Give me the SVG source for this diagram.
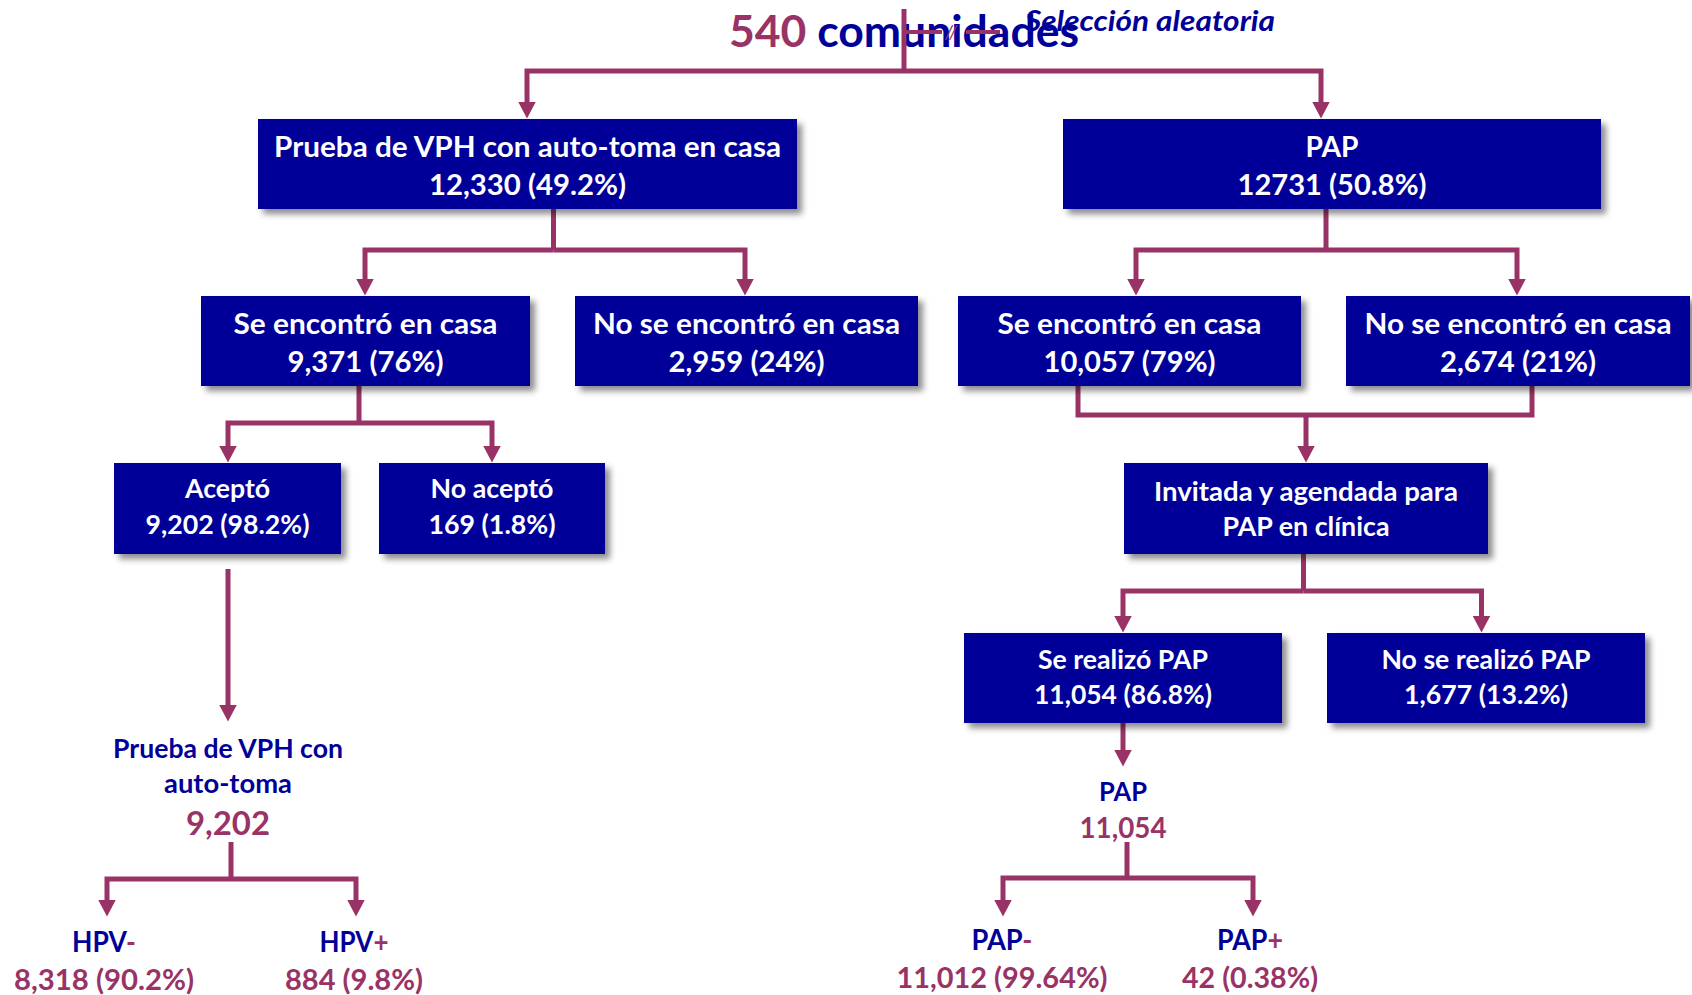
<svg xmlns="http://www.w3.org/2000/svg" width="1692" height="995" viewBox="0 0 1692 995">
<defs>
<style>
.box{fill:#000099;filter:url(#sh);}
.t{font-family:Lato,"Open Sans","Liberation Sans",sans-serif;font-weight:bold;text-anchor:middle;}
.w{fill:#ffffff;}
.b{fill:#000099;}
.p{fill:#993366;}
.s32{font-size:29px;}
.s29{font-size:26px;}
.c{fill:none;stroke:#993366;stroke-width:5;stroke-linejoin:miter;}
.a{marker-end:url(#ah);}
</style>
<filter id="sh" x="-10%" y="-20%" width="130%" height="160%">
<feDropShadow dx="5" dy="5" stdDeviation="3" flood-color="#000" flood-opacity="0.45"/>
</filter>
<marker id="ah" markerUnits="userSpaceOnUse" markerWidth="17" markerHeight="18" viewBox="0 0 17 18" refX="0.5" refY="9" orient="auto">
<path d="M0,0 L17,9 L0,18 z" fill="#993366"/>
</marker>
</defs>
<rect width="1692" height="995" fill="#ffffff"/>

<g id="title">
<text class="t" x="904" y="47" style="font-size:43px" textLength="350" lengthAdjust="spacingAndGlyphs"><tspan class="p">540 </tspan><tspan class="b">comunidades</tspan></text>
</g>

<g id="connectors">
<path class="c" d="M904,9 V71"/>
<path class="c a" d="M904,71 H527 V102"/>
<path class="c a" d="M904,71 H1321 V102"/>
<path class="c" style="stroke-width:4" d="M904,32 H942 M966,32 H1000"/>
<text x="945" y="39" style="font-family:Lato,'Liberation Sans',sans-serif;font-style:italic;font-size:19px;fill:#993366">//</text>
<path class="c" d="M553.5,209 V250"/>
<path class="c a" d="M553.5,250 H365 V279"/>
<path class="c a" d="M553.5,250 H745 V279"/>
<path class="c" d="M1326,209 V250"/>
<path class="c a" d="M1326,250 H1136 V279"/>
<path class="c a" d="M1326,250 H1517 V279"/>
<path class="c" d="M359,386 V423"/>
<path class="c a" d="M359,423 H228 V446"/>
<path class="c a" d="M359,423 H492 V446"/>
<path class="c" d="M1078,386 V415 H1532 V386"/>
<path class="c a" d="M1306,415 V446"/>
<path class="c" d="M1303.5,554 V591"/>
<path class="c a" d="M1303.5,591 H1123 V616"/>
<path class="c a" d="M1303.5,591 H1481.5 V616"/>
<path class="c a" d="M228,569 V705"/>
<path class="c a" d="M1123,723 V750"/>
<path class="c" d="M231,842 V879"/>
<path class="c a" d="M231,879 H107 V900"/>
<path class="c a" d="M231,879 H356 V900"/>
<path class="c" d="M1127,842 V878"/>
<path class="c a" d="M1127,878 H1003 V900"/>
<path class="c a" d="M1127,878 H1253 V900"/>
</g>

<g id="seleccion">
<text x="1025" y="31" style="font-family:Lato,'Liberation Sans',sans-serif;font-weight:bold;font-style:italic;font-size:29px;fill:#000099" textLength="250" lengthAdjust="spacingAndGlyphs">Selección aleatoria</text>
</g>

<g id="n-vph">
<rect class="box" x="258" y="119" width="539" height="90"/>
<text class="t w s32" x="527.5" y="157" textLength="507" lengthAdjust="spacingAndGlyphs">Prueba de VPH con auto-toma en casa</text>
<text class="t w s32" x="527.5" y="195" textLength="197" lengthAdjust="spacingAndGlyphs">12,330 (49.2%)</text>
</g>

<g id="n-pap">
<rect class="box" x="1063" y="119" width="538" height="90"/>
<text class="t w s32" x="1332" y="157" textLength="53" lengthAdjust="spacingAndGlyphs">PAP</text>
<text class="t w s32" x="1332" y="195" textLength="189" lengthAdjust="spacingAndGlyphs">12731 (50.8%)</text>
</g>

<g id="n-vph-casa">
<rect class="box" x="201" y="296" width="329" height="90"/>
<text class="t w s32" x="365.5" y="334" textLength="264" lengthAdjust="spacingAndGlyphs">Se encontró en casa</text>
<text class="t w s32" x="365.5" y="372" textLength="156" lengthAdjust="spacingAndGlyphs">9,371 (76%)</text>
</g>

<g id="n-vph-nocasa">
<rect class="box" x="575" y="296" width="343" height="90"/>
<text class="t w s32" x="746.5" y="334" textLength="307" lengthAdjust="spacingAndGlyphs">No se encontró en casa</text>
<text class="t w s32" x="746.5" y="372" textLength="156" lengthAdjust="spacingAndGlyphs">2,959 (24%)</text>
</g>

<g id="n-pap-casa">
<rect class="box" x="958" y="296" width="343" height="90"/>
<text class="t w s32" x="1129.5" y="334" textLength="264" lengthAdjust="spacingAndGlyphs">Se encontró en casa</text>
<text class="t w s32" x="1129.5" y="372" textLength="172" lengthAdjust="spacingAndGlyphs">10,057 (79%)</text>
</g>

<g id="n-pap-nocasa">
<rect class="box" x="1346" y="296" width="344" height="90"/>
<text class="t w s32" x="1518" y="334" textLength="307" lengthAdjust="spacingAndGlyphs">No se encontró en casa</text>
<text class="t w s32" x="1518" y="372" textLength="156" lengthAdjust="spacingAndGlyphs">2,674 (21%)</text>
</g>

<g id="n-acepto">
<rect class="box" x="114" y="463" width="227" height="91"/>
<text class="t w s29" x="227.5" y="498" textLength="85" lengthAdjust="spacingAndGlyphs">Aceptó</text>
<text class="t w s29" x="227.5" y="534" textLength="164" lengthAdjust="spacingAndGlyphs">9,202 (98.2%)</text>
</g>

<g id="n-noacepto">
<rect class="box" x="379" y="463" width="226" height="91"/>
<text class="t w s29" x="492" y="498" textLength="123" lengthAdjust="spacingAndGlyphs">No aceptó</text>
<text class="t w s29" x="492" y="534" textLength="127" lengthAdjust="spacingAndGlyphs">169 (1.8%)</text>
</g>

<g id="n-invitada">
<rect class="box" x="1124" y="463" width="364" height="91"/>
<text class="t w s29" x="1306" y="501" textLength="304" lengthAdjust="spacingAndGlyphs">Invitada y agendada para</text>
<text class="t w s29" x="1306" y="536" textLength="167" lengthAdjust="spacingAndGlyphs">PAP en clínica</text>
</g>

<g id="n-realizo">
<rect class="box" x="964" y="633" width="318" height="90"/>
<text class="t w s29" x="1123" y="669" textLength="170" lengthAdjust="spacingAndGlyphs">Se realizó PAP</text>
<text class="t w s29" x="1123" y="704" textLength="178" lengthAdjust="spacingAndGlyphs">11,054 (86.8%)</text>
</g>

<g id="n-norealizo">
<rect class="box" x="1327" y="633" width="318" height="90"/>
<text class="t w s29" x="1486" y="669" textLength="209" lengthAdjust="spacingAndGlyphs">No se realizó PAP</text>
<text class="t w s29" x="1486" y="704" textLength="164" lengthAdjust="spacingAndGlyphs">1,677 (13.2%)</text>
</g>

<g id="n-autotoma">
<text class="t b" x="228" y="758" style="font-size:26px" textLength="230" lengthAdjust="spacingAndGlyphs">Prueba de VPH con</text>
<text class="t b" x="228" y="793" style="font-size:26px" textLength="128" lengthAdjust="spacingAndGlyphs">auto-toma</text>
<text class="t p" x="228" y="835" style="font-size:33px" textLength="84" lengthAdjust="spacingAndGlyphs">9,202</text>
</g>

<g id="n-hpvneg">
<text class="t b" x="104" y="952" style="font-size:29px" textLength="64" lengthAdjust="spacingAndGlyphs">HPV<tspan class="p">-</tspan></text>
<text class="t p" x="104" y="990" style="font-size:29px" textLength="180" lengthAdjust="spacingAndGlyphs">8,318 (90.2%)</text>
</g>

<g id="n-hpvpos">
<text class="t b" x="354" y="952" style="font-size:29px" textLength="69" lengthAdjust="spacingAndGlyphs">HPV<tspan class="p">+</tspan></text>
<text class="t p" x="354" y="990" style="font-size:29px" textLength="138" lengthAdjust="spacingAndGlyphs">884 (9.8%)</text>
</g>

<g id="n-paplabel">
<text class="t b" x="1123" y="801" style="font-size:26px" textLength="48" lengthAdjust="spacingAndGlyphs">PAP</text>
<text class="t p" x="1123" y="838" style="font-size:28px" textLength="87" lengthAdjust="spacingAndGlyphs">11,054</text>
</g>

<g id="n-papneg">
<text class="t b" x="1002" y="950" style="font-size:29px" textLength="61" lengthAdjust="spacingAndGlyphs">PAP<tspan class="p">-</tspan></text>
<text class="t p" x="1002" y="988" style="font-size:29px" textLength="211" lengthAdjust="spacingAndGlyphs">11,012 (99.64%)</text>
</g>

<g id="n-pappos">
<text class="t b" x="1250" y="950" style="font-size:29px" textLength="66" lengthAdjust="spacingAndGlyphs">PAP<tspan class="p">+</tspan></text>
<text class="t p" x="1250" y="988" style="font-size:29px" textLength="136" lengthAdjust="spacingAndGlyphs">42 (0.38%)</text>
</g>
</svg>
